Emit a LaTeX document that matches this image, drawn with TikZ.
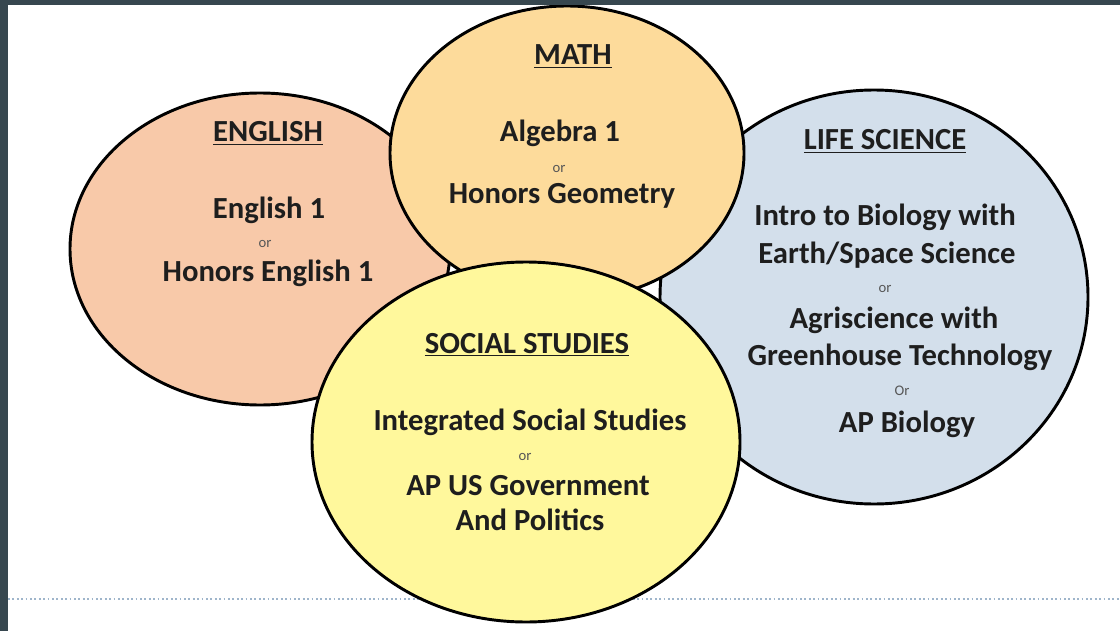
\documentclass[tikz,border=0pt]{standalone}
\usepackage{fontspec}
\setmainfont{Carlito}
\usepackage{xcolor}
\definecolor{framegray}{HTML}{37474F}
\definecolor{englishfill}{HTML}{F8C9A9}
\definecolor{mathfill}{HTML}{FDDB9B}
\definecolor{lifefill}{HTML}{D3DFEB}
\definecolor{socialfill}{HTML}{FFF89C}
\definecolor{textdark}{HTML}{1E1E1E}
\definecolor{orgray}{HTML}{575757}
\definecolor{rulegray}{HTML}{9FB5CB}
\usepackage{tikz}
\usetikzlibrary{shapes.geometric}
\tikzset{
  subject/.style={ellipse, draw=black, line width=2.2pt, inner sep=0pt},
  ctitle/.style={anchor=base, font=\fontsize{23}{27}\selectfont\bfseries, text=textdark, inner sep=0pt},
  course/.style={anchor=base, font=\fontsize{23}{27}\selectfont\bfseries, text=textdark, inner sep=0pt},
  ortext/.style={anchor=base, font=\fontsize{11}{12}\selectfont, text=orgray, inner sep=0pt},
  baserule/.style={rulegray, dotted, line width=1.3pt},
}

\begin{document}
\begin{tikzpicture}[x=0.75pt, y=-0.75pt]
  \useasboundingbox (0,0) rectangle (1120,631);
  \fill[white] (0,0) rectangle (1120,631);
  \draw[baserule] (8,599) -- (1120,599);

  % the four subject circles, back to front
  \node[subject, fill=englishfill, minimum width=285pt, minimum height=234pt] (english) at (260,249) {};
  \node[subject, fill=lifefill, minimum width=321pt, minimum height=310.5pt] (life) at (874,297) {};
  \node[subject, fill=mathfill, minimum width=265.5pt, minimum height=220.5pt] (math) at (567,153) {};
  \node[subject, fill=socialfill, minimum width=321pt, minimum height=270pt] (social) at (526,442) {};

  % English
  \node[ctitle] (engtitle) at (268,142) {\underline{ENGLISH}};
  \node[course] (eng1) at (269,218) {English 1};
  \node[ortext] (engor) at (265,247) {or};
  \node[course] (eng2) at (268,281) {Honors English 1};

  % Math
  \node[ctitle] (mathtitle) at (573,65) {\underline{MATH}};
  \node[course] (math1) at (560,142) {Algebra 1};
  \node[ortext] (mathor) at (559,172) {or};
  \node[course] (math2) at (562,203) {Honors Geometry};

  % Life science
  \node[ctitle] (lifetitle) at (885,150) {\underline{LIFE SCIENCE}};
  \node[course] (life1) at (885,225) {Intro to Biology with};
  \node[course] (life2) at (887,263) {Earth/Space Science};
  \node[ortext] (lifeor1) at (885,292) {or};
  \node[course] (life3) at (894,328) {Agriscience with};
  \node[course] (life4) at (900,365) {Greenhouse Technology};
  \node[ortext] (lifeor2) at (902,395) {Or};
  \node[course] (life5) at (907,432) {AP Biology};

  % Social studies
  \node[ctitle] (soctitle) at (527,353) {\underline{SOCIAL STUDIES}};
  \node[course] (soc1) at (530,430) {Integrated Social Studies};
  \node[ortext] (socor) at (525,460) {or};
  \node[course] (soc2) at (528,495) {AP US Government};
  \node[course] (soc3) at (530,530) {And Politics};

  % slide frame
  \fill[framegray] (0,0) rectangle (1120,5);
  \fill[framegray] (0,0) rectangle (8,631);
\end{tikzpicture}
\end{document}
